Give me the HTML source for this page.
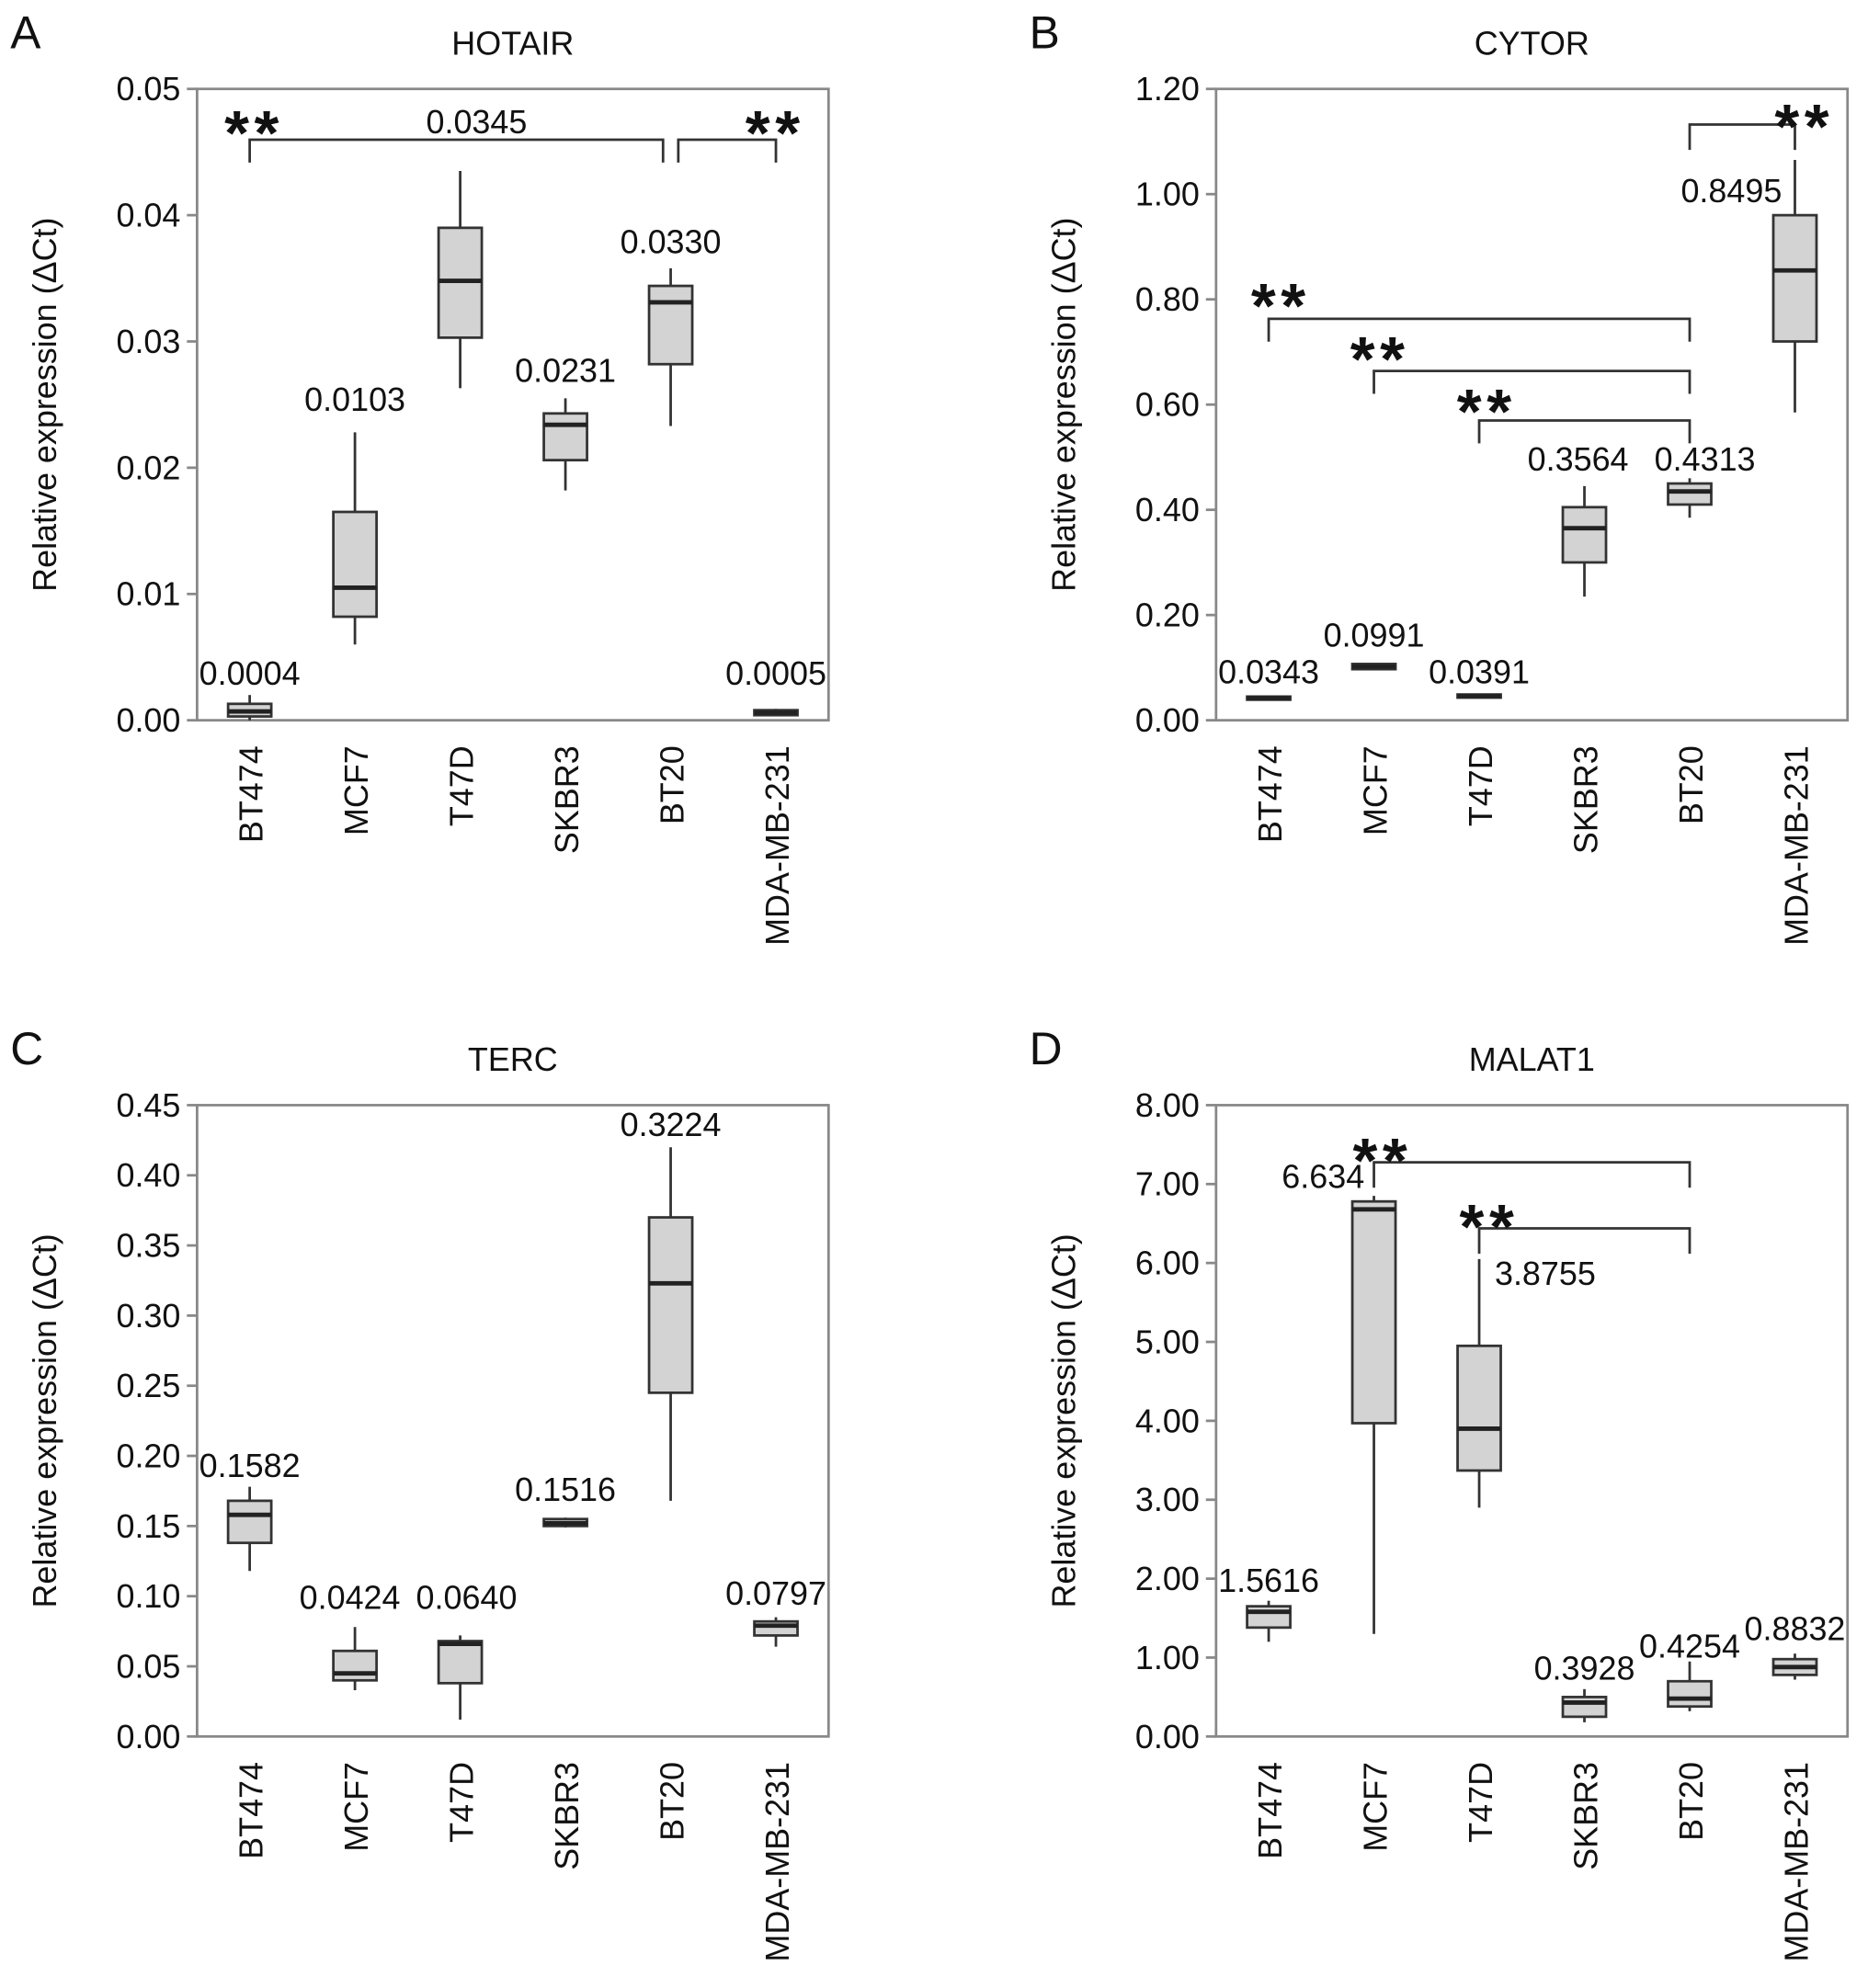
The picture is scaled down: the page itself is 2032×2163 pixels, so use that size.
<!DOCTYPE html>
<html><head><meta charset="utf-8">
<style>
html,body{margin:0;padding:0;background:#fff;}
svg{display:block;font-family:"Liberation Sans",Arial,sans-serif;}
</style></head>
<body>
<svg id="fig" width="2032" height="2163" viewBox="0 0 1470 1565" xmlns="http://www.w3.org/2000/svg"></svg>
<script>
const categories = ["BT474","MCF7","T47D","SKBR3","BT20","MDA-MB-231"];

// Panel A HOTAIR
const aTicks = ["0.00","0.01","0.02","0.03","0.04","0.05"];
const aWhiskLo = [0.0000,0.0060,0.0263,0.0182,0.0233,0.0003];
const aQ1      = [0.0003,0.0082,0.0303,0.0206,0.0282,0.0004];
const aMed     = [0.0007,0.0105,0.0348,0.0234,0.0331,0.0006];
const aQ3      = [0.0013,0.0165,0.0390,0.0243,0.0344,0.0008];
const aWhiskHi = [0.0020,0.0228,0.0435,0.0255,0.0358,0.0009];
const aLabels  = ["0.0004","0.0103","","0.0231","0.0330","0.0005"];
const aLabelY  = [0.0028,0.0245,0,0.0268,0.0370,0.0028];

// Panel B CYTOR
const bTicks = ["0.00","0.20","0.40","0.60","0.80","1.00","1.20"];
const bWhiskLo = [0.037,0.095,0.042,0.235,0.385,0.585];
const bQ1      = [0.039,0.097,0.043,0.300,0.410,0.720];
const bMed     = [0.042,0.102,0.046,0.365,0.435,0.855];
const bQ3      = [0.045,0.107,0.049,0.405,0.450,0.960];
const bWhiskHi = [0.047,0.108,0.050,0.445,0.460,1.065];
const bLabels  = ["0.0343","0.0991","0.0391","0.3564","0.4313","0.8495"];
const bLabelY  = [0.070,0.140,0.070,0.475,0.475,0.985];

// Panel C TERC
const cTicks = ["0.00","0.05","0.10","0.15","0.20","0.25","0.30","0.35","0.40","0.45"];
const cWhiskLo = [0.118,0.033,0.012,0.149,0.168,0.064];
const cQ1      = [0.138,0.040,0.038,0.150,0.245,0.072];
const cMed     = [0.158,0.045,0.066,0.152,0.323,0.079];
const cQ3      = [0.168,0.061,0.068,0.155,0.370,0.082];
const cWhiskHi = [0.178,0.078,0.072,0.156,0.420,0.085];
const cLabels  = ["0.1582","0.0424","0.0640","0.1516","0.3224","0.0797"];
const cLabelY  = [0.185,0.091,0.091,0.168,0.428,0.094];

// Panel D MALAT1
const dTicks = ["0.00","1.00","2.00","3.00","4.00","5.00","6.00","7.00","8.00"];
const dWhiskLo = [1.20,1.30,2.90,0.18,0.32,0.72];
const dQ1      = [1.38,3.97,3.37,0.25,0.38,0.78];
const dMed     = [1.58,6.68,3.90,0.43,0.48,0.88];
const dQ3      = [1.65,6.78,4.95,0.50,0.70,0.98];
const dWhiskHi = [1.72,6.85,6.05,0.60,0.95,1.05];
const dLabels  = ["1.5616","6.634","3.8755","0.3928","0.4254","0.8832"];
const dLabelY  = [1.83,6.95,5.72,0.72,1.00,1.22];

const NS="http://www.w3.org/2000/svg";
const svg=document.getElementById('fig');
function mk(tag,attrs,parent,txt){const e=document.createElementNS(NS,tag);for(const k in attrs)e.setAttribute(k,attrs[k]);if(txt!==undefined)e.textContent=txt;(parent||svg).appendChild(e);return e;}

function panel(o){
  const g=mk('g',{});
  
  
  const L=o.x,R=o.x+497,T=o.y,B=o.y+497;
  const max=parseFloat(o.ticks[o.ticks.length-1]);
  const ys=v=>B-(v/max)*(B-T);
  const xs=i=>L+497*(i+0.5)/6;
  const letter=mk('text',{x:o.x-147,y:o.y-32,'font-size':36,fill:'#111'},g,o.letter);
  
  
  const title=mk('text',{x:(L+R)/2,y:o.y-27,'font-size':26,'text-anchor':'middle',fill:'#111'},g,o.title);
  
  
  const frame=mk('rect',{x:L,y:T,width:497,height:497,fill:'none',stroke:'#888','stroke-width':2},g);
  
  
  o.ticks.forEach((t,i)=>{
    const y=ys(parseFloat(t));
    mk('line',{x1:L-8,x2:L,y1:y,y2:y,stroke:'#888','stroke-width':2},g);
    const tl=mk('text',{x:L-13,y:y+9,'font-size':26,'text-anchor':'end',fill:'#111'},g,t);
    
    
  });
  const yt=mk('text',{transform:`translate(${L-111},${(T+B)/2}) rotate(-90)`,'font-size':26,'text-anchor':'middle',fill:'#111'},g,'Relative expression (\u0394Ct)');
  
  
  categories.forEach((c,i)=>{
    const x=xs(i);
    const cl=mk('text',{transform:`translate(${x+10},${B+20}) rotate(-90)`,'font-size':26,'text-anchor':'end',fill:'#111'},g,c);
    
    
    const bx=mk('g',{},g);
    
    
    mk('line',{x1:x,x2:x,y1:ys(o.lo[i]),y2:ys(o.hi[i]),stroke:'#333','stroke-width':2},bx);
    const y3=ys(o.q3[i]),y1=ys(o.q1[i]);
    mk('rect',{x:x-17,y:y3,width:34,height:Math.max(y1-y3,1.5),fill:'#d3d3d3',stroke:'#333','stroke-width':2},bx);
    mk('line',{x1:x-17,x2:x+17,y1:ys(o.med[i]),y2:ys(o.med[i]),stroke:'#222','stroke-width':3.5},bx);
    if(o.labels[i]){
      const lx=o.labelDx?x+o.labelDx[i]:x;
      const lb=mk('text',{x:lx,y:ys(o.labelY[i]),'font-size':26,'text-anchor':'middle',fill:'#111'},g,o.labels[i]);
      
      
    }
  });
  (o.brackets||[]).forEach(b=>{
    const x1=xs(b[0])+(b[4]||0),x2=xs(b[1])+(b[5]||0),y=b[2],d=b[3];
    const p=mk('path',{d:`M${x1},${y+d} L${x1},${y} L${x2},${y} L${x2},${y+d}`,fill:'none',stroke:'#333','stroke-width':2},g);
    
    
  });
  (o.stars||[]).forEach(s=>{
    const st=mk('text',{x:s[0],y:s[1],'font-size':50,'font-weight':'bold','letter-spacing':4,'text-anchor':'middle',fill:'#111'},g,'**');
    
    
  });
  (o.extra||[]).forEach(s=>{
    const t=mk('text',{x:s[0],y:s[1],'font-size':26,'text-anchor':'middle',fill:'#111'},g,s[2]);
    
    
  });
}

panel({id:'hotair',letter:'A',title:'HOTAIR',x:155,y:70,ticks:aTicks,lo:aWhiskLo,q1:aQ1,med:aMed,q3:aQ3,hi:aWhiskHi,labels:aLabels,labelY:aLabelY,
  brackets:[[0,4,110,18,0,-6],[4,5,110,18,6,0]],stars:[[200,122],[610,122]],extra:[[375,105,'0.0345']]});
panel({id:'cytor',letter:'B',title:'CYTOR',x:957,y:70,ticks:bTicks,lo:bWhiskLo,q1:bQ1,med:bMed,q3:bQ3,hi:bWhiskHi,labels:bLabels,labelY:bLabelY,
  labelDx:[0,0,0,-5,12,-50],
  brackets:[[0,4,251,18],[1,4,292,18],[2,4,331,18],[4,5,98,20]],stars:[[1008,258],[1086,300],[1170,341],[1420,117]]});
panel({id:'terc',letter:'C',title:'TERC',x:155,y:870,ticks:cTicks,lo:cWhiskLo,q1:cQ1,med:cMed,q3:cQ3,hi:cWhiskHi,labels:cLabels,labelY:cLabelY,
  labelDx:[0,-4,5,0,0,0]});
panel({id:'malat1',letter:'D',title:'MALAT1',x:957,y:870,ticks:dTicks,lo:dWhiskLo,q1:dQ1,med:dMed,q3:dQ3,hi:dWhiskHi,labels:dLabels,labelY:dLabelY,
  labelDx:[0,-40,52,0,0,0],
  brackets:[[1,4,915,20],[2,4,967,20]],stars:[[1088,931],[1172,983]]});
</script>
</body></html>
